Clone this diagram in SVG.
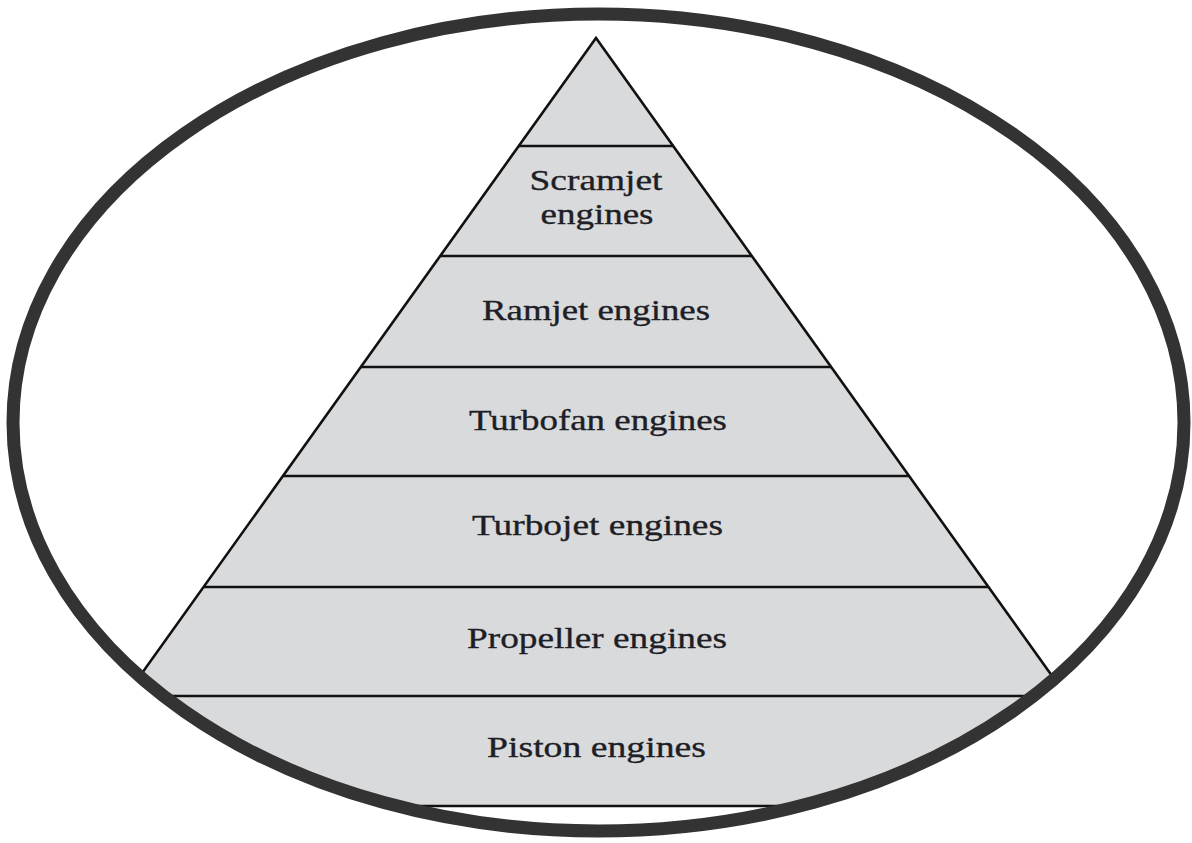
<svg xmlns="http://www.w3.org/2000/svg" width="1192" height="843" viewBox="0 0 1192 843">
  <style>
    .band { fill: #d9dadc; }
    .edge { stroke: #111; stroke-width: 2.6; fill: none; stroke-linejoin: miter; }
    .label { font-family: "Liberation Serif", "Times New Roman", serif; font-size: 30px; fill: #1e1e26; stroke: #1e1e26; stroke-width: 0.35; text-anchor: middle; }
    .frame { fill: none; stroke: #333333; stroke-width: 13; }
  </style>
  <defs>
    <clipPath id="inside">
      <ellipse cx="598.5" cy="422.5" rx="585.5" ry="408.5"/>
    </clipPath>
  </defs>
  <rect width="1192" height="843" fill="#ffffff"/>

  <!-- pyramid of engine types, trimmed by the oval frame -->
  <g id="pyramid" clip-path="url(#inside)">
    <polygon class="band" points="596,38 1145,806 47,806"/>
    <g id="connectors">
      <polyline class="edge" points="47,806 596,38 1145,806"/>
      <line class="edge" x1="518" y1="146" x2="674" y2="146"/>
      <line class="edge" x1="440" y1="256" x2="752" y2="256"/>
      <line class="edge" x1="361" y1="367" x2="831" y2="367"/>
      <line class="edge" x1="283" y1="476" x2="909" y2="476"/>
      <line class="edge" x1="204" y1="587" x2="988" y2="587"/>
      <line class="edge" x1="126" y1="696" x2="1066" y2="696"/>
      <line class="edge" x1="40" y1="806" x2="1150" y2="806"/>
    </g>
  </g>

  <g id="tier-scramjet">
    <text class="label" x="596" y="190" textLength="133" lengthAdjust="spacingAndGlyphs">Scramjet</text>
    <text class="label" x="597" y="224" textLength="113" lengthAdjust="spacingAndGlyphs">engines</text>
  </g>
  <g id="tier-ramjet">
    <text class="label" x="596" y="320" textLength="228" lengthAdjust="spacingAndGlyphs">Ramjet engines</text>
  </g>
  <g id="tier-turbofan">
    <text class="label" x="598" y="430" textLength="258" lengthAdjust="spacingAndGlyphs">Turbofan engines</text>
  </g>
  <g id="tier-turbojet">
    <text class="label" x="597.5" y="535" textLength="251" lengthAdjust="spacingAndGlyphs">Turbojet engines</text>
  </g>
  <g id="tier-propeller">
    <text class="label" x="597" y="648" textLength="260" lengthAdjust="spacingAndGlyphs">Propeller engines</text>
  </g>
  <g id="tier-piston">
    <text class="label" x="596.5" y="757" textLength="219" lengthAdjust="spacingAndGlyphs">Piston engines</text>
  </g>

  <!-- oval frame -->
  <g id="frame">
    <ellipse class="frame" cx="598.5" cy="422.5" rx="585.5" ry="408.5"/>
  </g>
</svg>
